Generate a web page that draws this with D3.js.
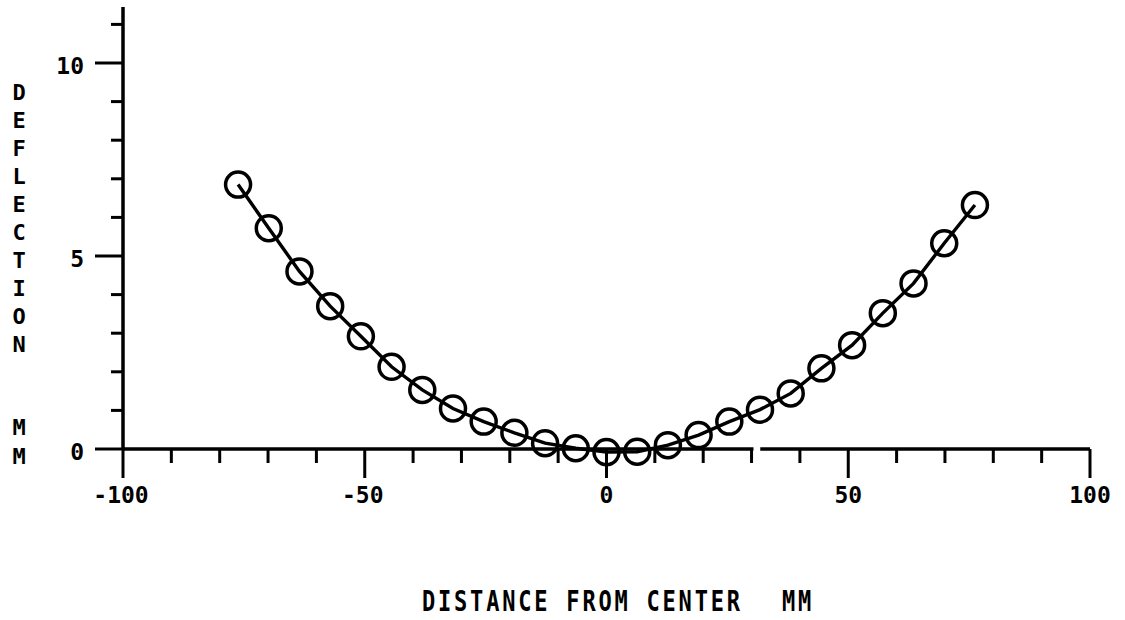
<!DOCTYPE html>
<html><head><meta charset="utf-8">
<script src="https://cdn.jsdelivr.net/npm/d3@7"></script>
<style>html,body{margin:0;padding:0;background:#fff;} svg{display:block;}</style>
</head><body>
<script>
// Data (distance from center in mm, deflection in mm)
const distance = [-76.2,-69.85,-63.5,-57.15,-50.8,-44.45,-38.1,-31.75,-25.4,-19.05,-12.7,-6.35,0,6.35,12.7,19.05,25.4,31.75,38.1,44.45,50.8,57.15,63.5,69.85,76.2];
const deflection = [6.85,5.72,4.6,3.7,2.92,2.13,1.53,1.05,0.71,0.42,0.15,0.02,-0.08,-0.07,0.1,0.36,0.71,1.02,1.44,2.09,2.69,3.52,4.29,5.33,6.32];
const xTickLabels = ["-100","-50","0","50","100"];
const xTickValues = [-100,-50,0,50,100];
const yTickLabels = ["0","5","10"];
const yTickValues = [0,5,10];
const yTitle = ["D","E","F","L","E","C","T","I","O","N"];
const yUnit = ["M","M"];
const xTitle = "DISTANCE FROM CENTER";
const xUnit = "MM";

const W = 1125, H = 620;
const svg = d3.select("body").append("svg").attr("width", W).attr("height", H);

const x = d3.scaleLinear().domain([-100, 100]).range([123, 1090]);
const y = d3.scaleLinear().domain([0, 10]).range([449, 63]);
const font = "'DejaVu Sans Mono', monospace";
const ink = "#000";

const g = svg.append("g").attr("stroke", ink).attr("stroke-linecap", "butt");

// Y axis line
g.append("line").attr("x1", x(-100)).attr("x2", x(-100))
  .attr("y1", y(11.45)).attr("y2", y(0)).attr("stroke-width", 3.5);
// X axis line
g.append("line").attr("x1", x(-100)).attr("x2", x(100))
  .attr("y1", y(0)).attr("y2", y(0)).attr("stroke-width", 3.5);

// X ticks (every 10, long at multiples of 50)
const xt = x.ticks(20);
g.selectAll("line.xt").data(xt).join("line").attr("class", "xt")
  .attr("x1", d => x(d)).attr("x2", d => x(d))
  .attr("y1", y(0)).attr("y2", d => y(0) + (d % 50 === 0 ? 29 : 14))
  .attr("stroke-width", 3);

// Y ticks (every 1, long at multiples of 5)
const yt = d3.range(0, 12);
g.selectAll("line.yt").data(yt).join("line").attr("class", "yt")
  .attr("y1", d => y(d)).attr("y2", d => y(d))
  .attr("x1", x(-100)).attr("x2", d => x(-100) - (d % 5 === 0 ? 28 : 12))
  .attr("stroke-width", 3);

// scan gap in x axis
svg.append("rect").attr("x", x(30.4)).attr("y", y(0) - 4)
  .attr("width", x(31.8) - x(30.4)).attr("height", 8).attr("fill", "#fff");

// Tick labels
svg.selectAll("text.xl").data(xTickValues).join("text").attr("class", "xl")
  .attr("x", d => x(d) + (d < 0 ? -2 : 0)).attr("y", 503)
  .attr("text-anchor", "middle").attr("font-family", font).attr("font-weight", "bold")
  .attr("font-size", 23).attr("fill", ink)
  .text((d, i) => xTickLabels[i]);

svg.selectAll("text.yl").data(yTickValues).join("text").attr("class", "yl")
  .attr("x", 84).attr("y", d => y(d) + 11)
  .attr("text-anchor", "end").attr("font-family", font).attr("font-weight", "bold")
  .attr("font-size", 23).attr("fill", ink)
  .text((d, i) => yTickLabels[i]);

// Y axis title (stacked letters)
svg.selectAll("text.yt").data(yTitle).join("text").attr("class", "yt")
  .attr("x", 19).attr("y", (d, i) => 92 + 28 * i + 8)
  .attr("text-anchor", "middle").attr("font-family", font).attr("font-weight", "bold")
  .attr("font-size", 22).attr("fill", ink).text(d => d);
svg.selectAll("text.yu").data(yUnit).join("text").attr("class", "yu")
  .attr("x", 19).attr("y", (d, i) => 427 + 29 * i + 8)
  .attr("text-anchor", "middle").attr("font-family", font).attr("font-weight", "bold")
  .attr("font-size", 22).attr("fill", ink).text(d => d);

// X axis title
svg.append("text").attr("transform", "translate(422,611) scale(1,1.25)")
  .attr("font-family", font).attr("font-weight", "bold").attr("font-size", 22)
  .attr("letter-spacing", 2.8).attr("fill", ink).text(xTitle);
svg.append("text").attr("transform", "translate(782,611) scale(1,1.25)")
  .attr("font-family", font).attr("font-weight", "bold").attr("font-size", 22)
  .attr("letter-spacing", 2.8).attr("fill", ink).text(xUnit);

// Data line
const pts = distance.map((d, i) => [d, deflection[i]]);
svg.append("path").datum(pts)
  .attr("d", d3.line().x(d => x(d[0])).y(d => y(d[1])))
  .attr("fill", "none").attr("stroke", ink).attr("stroke-width", 3.4);

// Circles
svg.selectAll("circle.pt").data(pts).join("circle").attr("class", "pt")
  .attr("cx", d => x(d[0])).attr("cy", d => y(d[1])).attr("r", 12.5)
  .attr("fill", "none").attr("stroke", ink).attr("stroke-width", 3.5);
</script>
</body></html>
